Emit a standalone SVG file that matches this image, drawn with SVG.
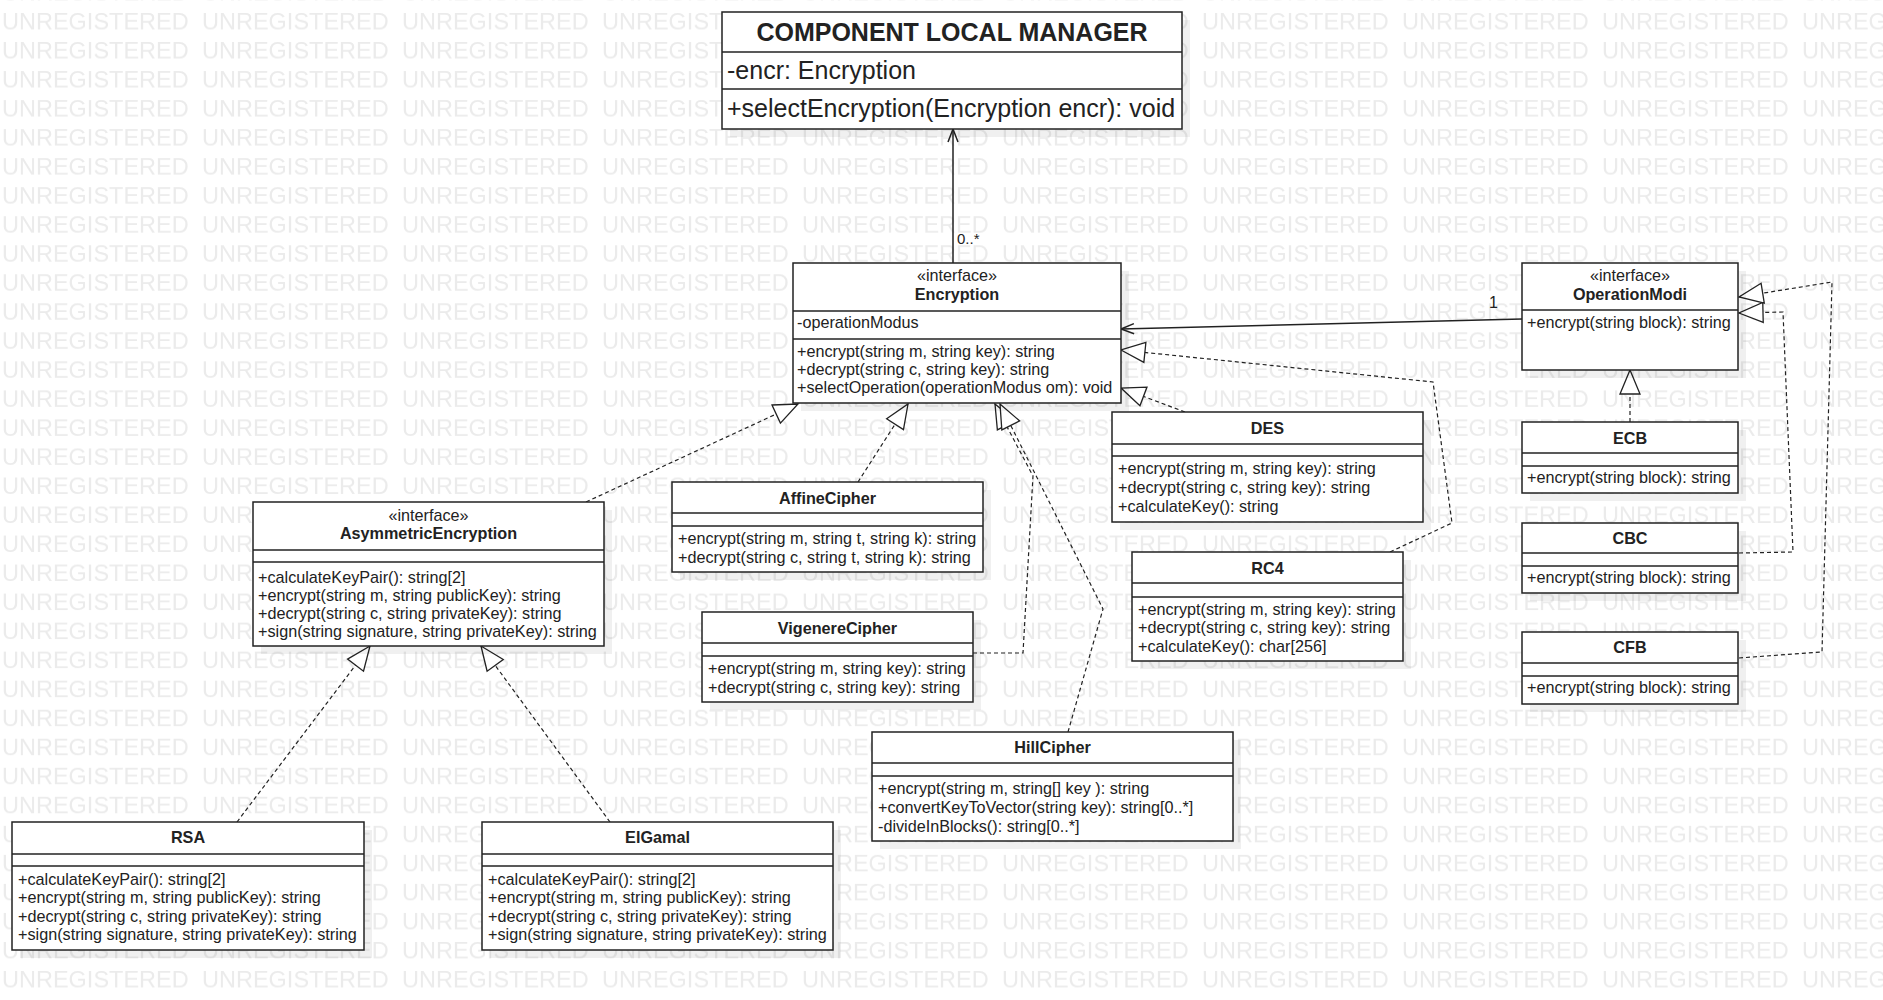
<svg xmlns="http://www.w3.org/2000/svg" width="1883" height="1000" viewBox="0 0 1883 1000">
<style>
.bg{fill:#fff}
.wm{font-family:"Liberation Sans",Arial,sans-serif;font-size:23.5px;fill:#ebebeb}
.sh{fill:#000;opacity:0.06}
.box{fill:#fff;stroke:#222;stroke-width:1.5}
.dv{stroke:#222;stroke-width:1.5}
.t{font-family:"Liberation Sans",Arial,sans-serif;font-size:16.2px;fill:#222}
.n{font-weight:bold;text-anchor:middle}
.c{text-anchor:middle}
.big{font-size:25px}
.title{font-size:25px;font-weight:bold;text-anchor:middle}
.dash{fill:none;stroke:#222;stroke-width:1.2;stroke-dasharray:4 3;marker-end:url(#tri)}
.assoc{fill:none;stroke:#222;stroke-width:1.5;marker-end:url(#open)}
.lbl{font-family:"Liberation Sans",Arial,sans-serif;font-size:15px;fill:#222}
</style>
<defs>
<pattern id="wmp" x="2" y="13" width="200" height="29.03" patternUnits="userSpaceOnUse">
<text class="wm" x="0" y="16">UNREGISTERED</text>
</pattern>
<marker id="tri" markerUnits="userSpaceOnUse" markerWidth="28" markerHeight="24" refX="25" refY="11" orient="auto" overflow="visible">
<path d="M1,1 L25,11 L1,21 Z" fill="#fff" stroke="#222" stroke-width="1.3"/>
</marker>
<marker id="open" markerUnits="userSpaceOnUse" markerWidth="16" markerHeight="14" refX="13" refY="5.5" orient="auto" overflow="visible">
<path d="M0,0.5 L13,5.5 L0,10.5" fill="none" stroke="#222" stroke-width="1.5"/>
</marker>
</defs>
<rect class="bg" x="0" y="0" width="1883" height="1000"/>
<rect x="0" y="0" width="1883" height="1000" fill="url(#wmp)"/>

<g id="connectors">
<path class="assoc" d="M953,263 L953,129"/>
<text class="lbl" x="957" y="244">0..*</text>
<path class="assoc" d="M1522,319 L1121,329"/>
<text class="lbl" x="1489" y="308" style="font-size:16px">1</text>
<path class="dash" d="M586,502 L798,404"/>
<path class="dash" d="M858,482 L908,404"/>
<path class="dash" d="M973,653 L1023,653 L1033,476 L995,404"/>
<path class="dash" d="M1068,732 L1103,609 L1000,404"/>
<path class="dash" d="M1185,412 L1121,388"/>
<path class="dash" d="M1390,552 L1452,523 L1433,382 L1121,350"/>
<path class="dash" d="M237,822 L370,646"/>
<path class="dash" d="M610,822 L481,646"/>
<path class="dash" d="M1630,422 L1630,370"/>
<path class="dash" d="M1739,553 L1793,552 L1783,312 L1739,313"/>
<path class="dash" d="M1739,658 L1822,652 L1832,282 L1739,297"/>
</g>

<g id="clm">
<rect class="sh" x="730" y="20" width="460" height="117"/>
<rect class="box" x="722" y="12" width="460" height="117"/>
<line class="dv" x1="722" y1="52" x2="1182" y2="52"/>
<line class="dv" x1="722" y1="89" x2="1182" y2="89"/>
<text class="t title" x="952" y="41">COMPONENT LOCAL MANAGER</text>
<text class="t big" x="727" y="79">-encr: Encryption</text>
<text class="t big" x="727" y="117">+selectEncryption(Encryption encr): void</text>
</g>

<g id="encryption">
<rect class="sh" x="801" y="271" width="328" height="140"/>
<rect class="box" x="793" y="263" width="328" height="140"/>
<line class="dv" x1="793" y1="311" x2="1121" y2="311"/>
<line class="dv" x1="793" y1="339" x2="1121" y2="339"/>
<text class="t c" x="957" y="281">«interface»</text>
<text class="t n" x="957" y="300">Encryption</text>
<text class="t" x="797" y="328">-operationModus</text>
<text class="t" x="797" y="357">+encrypt(string m, string key): string</text>
<text class="t" x="797" y="375">+decrypt(string c, string key): string</text>
<text class="t" x="797" y="393">+selectOperation(operationModus om): void</text>
</g>

<g id="operationmodi">
<rect class="sh" x="1530" y="271" width="216" height="107"/>
<rect class="box" x="1522" y="263" width="216" height="107"/>
<line class="dv" x1="1522" y1="310" x2="1738" y2="310"/>
<text class="t c" x="1630" y="281">«interface»</text>
<text class="t n" x="1630" y="300">OperationModi</text>
<text class="t" x="1527" y="328">+encrypt(string block): string</text>
</g>

<g id="ecb">
<rect class="sh" x="1530" y="430" width="216" height="71"/>
<rect class="box" x="1522" y="422" width="216" height="71"/>
<line class="dv" x1="1522" y1="453" x2="1738" y2="453"/>
<line class="dv" x1="1522" y1="466" x2="1738" y2="466"/>
<text class="t n" x="1630" y="444">ECB</text>
<text class="t" x="1527" y="483">+encrypt(string block): string</text>
</g>

<g id="cbc">
<rect class="sh" x="1530" y="531" width="216" height="70"/>
<rect class="box" x="1522" y="523" width="216" height="70"/>
<line class="dv" x1="1522" y1="553" x2="1738" y2="553"/>
<line class="dv" x1="1522" y1="566" x2="1738" y2="566"/>
<text class="t n" x="1630" y="544">CBC</text>
<text class="t" x="1527" y="583">+encrypt(string block): string</text>
</g>

<g id="cfb">
<rect class="sh" x="1530" y="640" width="216" height="72"/>
<rect class="box" x="1522" y="632" width="216" height="72"/>
<line class="dv" x1="1522" y1="663" x2="1738" y2="663"/>
<line class="dv" x1="1522" y1="676" x2="1738" y2="676"/>
<text class="t n" x="1630" y="653">CFB</text>
<text class="t" x="1527" y="693">+encrypt(string block): string</text>
</g>

<g id="asymmetricencryption">
<rect class="sh" x="261" y="510" width="351" height="144"/>
<rect class="box" x="253" y="502" width="351" height="144"/>
<line class="dv" x1="253" y1="550" x2="604" y2="550"/>
<line class="dv" x1="253" y1="562" x2="604" y2="562"/>
<text class="t c" x="428.5" y="521">«interface»</text>
<text class="t n" x="428.5" y="539">AsymmetricEncryption</text>
<text class="t" x="258" y="583">+calculateKeyPair(): string[2]</text>
<text class="t" x="258" y="601">+encrypt(string m, string publicKey): string</text>
<text class="t" x="258" y="619">+decrypt(string c, string privateKey): string</text>
<text class="t" x="258" y="637">+sign(string signature, string privateKey): string</text>
</g>

<g id="rsa">
<rect class="sh" x="20" y="830" width="352" height="128"/>
<rect class="box" x="12" y="822" width="352" height="128"/>
<line class="dv" x1="12" y1="854" x2="364" y2="854"/>
<line class="dv" x1="12" y1="866" x2="364" y2="866"/>
<text class="t n" x="188" y="843">RSA</text>
<text class="t" x="18" y="885">+calculateKeyPair(): string[2]</text>
<text class="t" x="18" y="903">+encrypt(string m, string publicKey): string</text>
<text class="t" x="18" y="922">+decrypt(string c, string privateKey): string</text>
<text class="t" x="18" y="940">+sign(string signature, string privateKey): string</text>
</g>

<g id="elgamal">
<rect class="sh" x="490" y="830" width="351" height="128"/>
<rect class="box" x="482" y="822" width="351" height="128"/>
<line class="dv" x1="482" y1="854" x2="833" y2="854"/>
<line class="dv" x1="482" y1="866" x2="833" y2="866"/>
<text class="t n" x="657.5" y="843">ElGamal</text>
<text class="t" x="488" y="885">+calculateKeyPair(): string[2]</text>
<text class="t" x="488" y="903">+encrypt(string m, string publicKey): string</text>
<text class="t" x="488" y="922">+decrypt(string c, string privateKey): string</text>
<text class="t" x="488" y="940">+sign(string signature, string privateKey): string</text>
</g>

<g id="affinecipher">
<rect class="sh" x="680" y="490" width="311" height="90"/>
<rect class="box" x="672" y="482" width="311" height="90"/>
<line class="dv" x1="672" y1="513" x2="983" y2="513"/>
<line class="dv" x1="672" y1="526" x2="983" y2="526"/>
<text class="t n" x="827.5" y="504">AffineCipher</text>
<text class="t" x="678" y="544">+encrypt(string m, string t, string k): string</text>
<text class="t" x="678" y="563">+decrypt(string c, string t, string k): string</text>
</g>

<g id="vigenerecipher">
<rect class="sh" x="710" y="620" width="271" height="90"/>
<rect class="box" x="702" y="612" width="271" height="90"/>
<line class="dv" x1="702" y1="643" x2="973" y2="643"/>
<line class="dv" x1="702" y1="656" x2="973" y2="656"/>
<text class="t n" x="837.5" y="634">VigenereCipher</text>
<text class="t" x="708" y="674">+encrypt(string m, string key): string</text>
<text class="t" x="708" y="693">+decrypt(string c, string key): string</text>
</g>

<g id="hillcipher">
<rect class="sh" x="880" y="740" width="361" height="109"/>
<rect class="box" x="872" y="732" width="361" height="109"/>
<line class="dv" x1="872" y1="763" x2="1233" y2="763"/>
<line class="dv" x1="872" y1="776" x2="1233" y2="776"/>
<text class="t n" x="1052.5" y="753">HillCipher</text>
<text class="t" x="878" y="794">+encrypt(string m, string[] key ): string</text>
<text class="t" x="878" y="813">+convertKeyToVector(string key): string[0..*]</text>
<text class="t" x="878" y="832">-divideInBlocks(): string[0..*]</text>
</g>

<g id="des">
<rect class="sh" x="1120" y="420" width="311" height="110"/>
<rect class="box" x="1112" y="412" width="311" height="110"/>
<line class="dv" x1="1112" y1="444" x2="1423" y2="444"/>
<line class="dv" x1="1112" y1="456" x2="1423" y2="456"/>
<text class="t n" x="1267.5" y="434">DES</text>
<text class="t" x="1118" y="474">+encrypt(string m, string key): string</text>
<text class="t" x="1118" y="493">+decrypt(string c, string key): string</text>
<text class="t" x="1118" y="512">+calculateKey(): string</text>
</g>

<g id="rc4">
<rect class="sh" x="1140" y="560" width="271" height="109"/>
<rect class="box" x="1132" y="552" width="271" height="109"/>
<line class="dv" x1="1132" y1="583" x2="1403" y2="583"/>
<line class="dv" x1="1132" y1="597" x2="1403" y2="597"/>
<text class="t n" x="1267.5" y="574">RC4</text>
<text class="t" x="1138" y="615">+encrypt(string m, string key): string</text>
<text class="t" x="1138" y="633">+decrypt(string c, string key): string</text>
<text class="t" x="1138" y="652">+calculateKey(): char[256]</text>
</g>
</svg>
